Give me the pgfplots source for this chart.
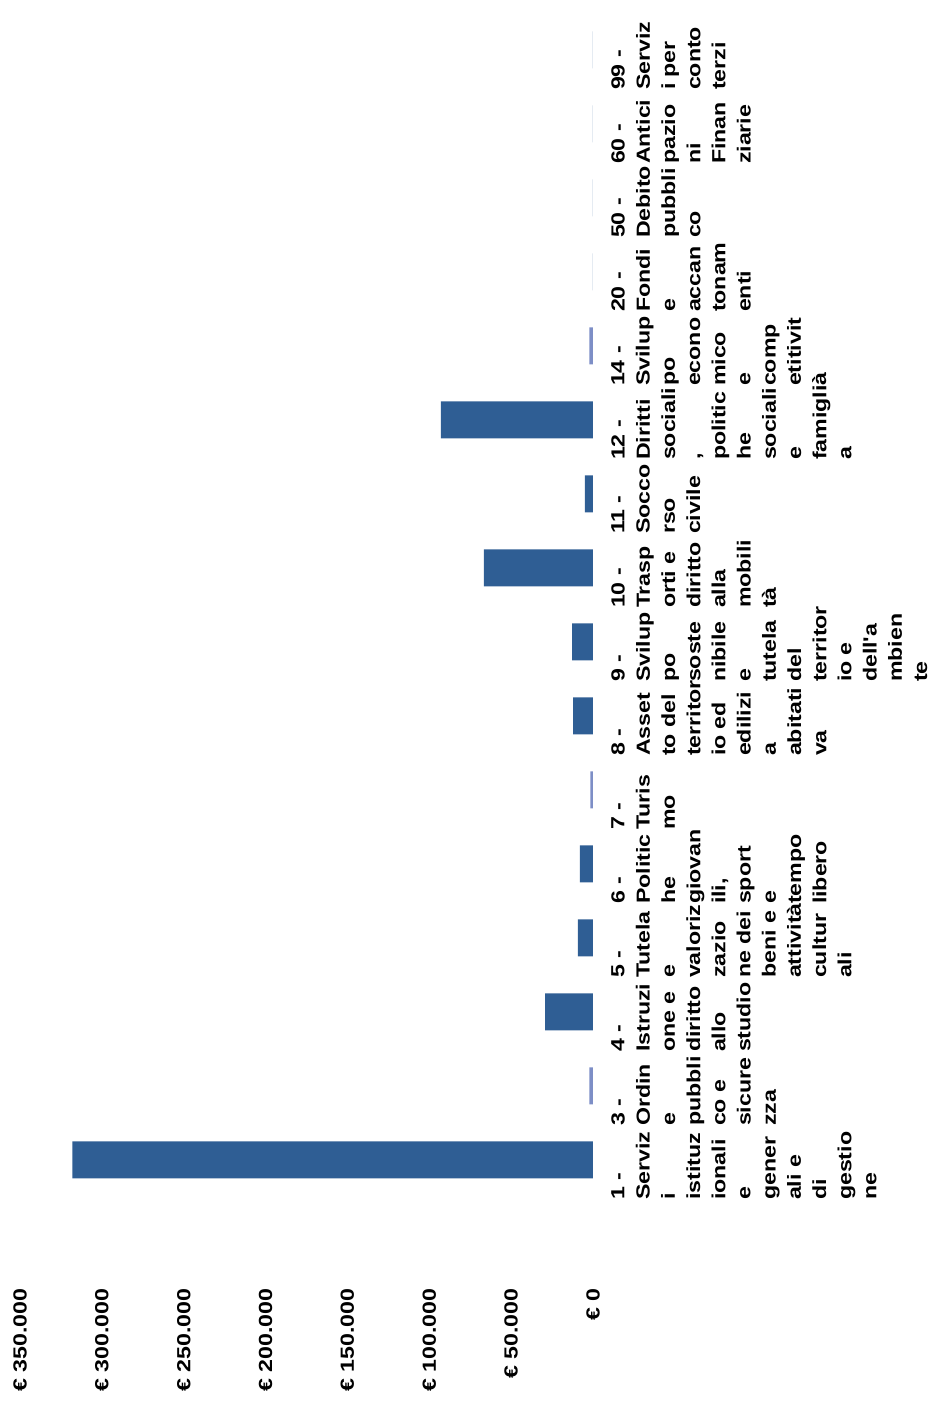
\documentclass[border=0pt]{standalone}
\usepackage{fontspec}
\setmainfont{Liberation Sans}
\newfontfamily\lab[FakeStretch=1.22]{Liberation Sans}
\usepackage{pgfplots}
\pgfplotsset{compat=1.18}
\definecolor{barblue}{RGB}{47,94,148}
\definecolor{thinblue}{RGB}{125,142,198}
\begin{document}
\begin{tikzpicture}
\path[use as bounding box] (0,0) rectangle (466.5pt,701.5pt);
\begin{axis}[
  at={(153.25pt,376.75pt)}, anchor=center,
  scale only axis, width=286.5pt, height=636.5pt,
  xbar, bar width=18.5pt,
  xmin=0, xmax=350000, x dir=reverse,
  ymin=-1.703, ymax=15.5,
  xtick={0,50000,100000,150000,200000,250000,300000,350000},
  xticklabels={€ 0,€ 50.000,€ 100.000,€ 150.000,€ 200.000,€ 250.000,€ 300.000,€ 350.000},
  ytick={0,1,2,3,4,5,6,7,8,9,10,11,12,13,14,15},
  yticklabel pos=right,
  yticklabels={
    {1 -\\Serviz\\i\\istituz\\ionali\\e\\gener\\ali e\\di\\gestio\\ne},
    {3 -\\Ordin\\e\\pubbli\\co e\\sicure\\zza},
    {4 -\\Istruzi\\one e\\diritto\\allo\\studio},
    {5 -\\Tutela\\e\\valoriz\\zazio\\ne dei\\beni e\\attività\\cultur\\ali},
    {6 -\\Politic\\he\\giovan\\ili,\\sport\\e\\tempo\\libero},
    {7 -\\Turis\\mo},
    {8 -\\Asset\\to del\\territor\\io ed\\edilizi\\a\\abitati\\va},
    {9 -\\Svilup\\po\\soste\\nibile\\e\\tutela\\del\\territor\\io e\\dell'a\\mbien\\te},
    {10 -\\Trasp\\orti e\\diritto\\alla\\mobili\\tà},
    {11 -\\Socco\\rso\\civile},
    {12 -\\Diritti\\sociali\\,\\politic\\he\\sociali\\e\\famigli\\a},
    {14 -\\Svilup\\po\\econo\\mico\\e\\comp\\etitivit\\à},
    {20 -\\Fondi\\e\\accan\\tonam\\enti},
    {50 -\\Debito\\pubbli\\co},
    {60 -\\Antici\\pazio\\ni\\Finan\\ziarie},
    {99 -\\Serviz\\i per\\conto\\terzi}
  },
  axis line style={draw=none},
  major tick length=0pt,
  xticklabel style={rotate=90, anchor=east, inner xsep=1pt, font=\lab\bfseries\fontsize{9.5}{11}\selectfont},
  yticklabel style={rotate=90, anchor=north, align=left, text width=40pt, inner ysep=9pt,
    font=\lab\bfseries\fontsize{9.5}{12.6}\selectfont},
  clip=false,
]
\addplot[fill=barblue, draw=none, bar shift=0pt] coordinates {
  (318000,0) (29300,2) (9200,3) (8000,4) (12200,6) (12800,7)
  (66600,8) (4900,9) (92900,10) (0,12) (0,13) (0,14) (0,15)};
\addplot[fill=thinblue, draw=none, bar shift=0pt] coordinates {
  (2200,1) (1600,5) (2200,11)};
\end{axis}
\end{tikzpicture}
\end{document}
